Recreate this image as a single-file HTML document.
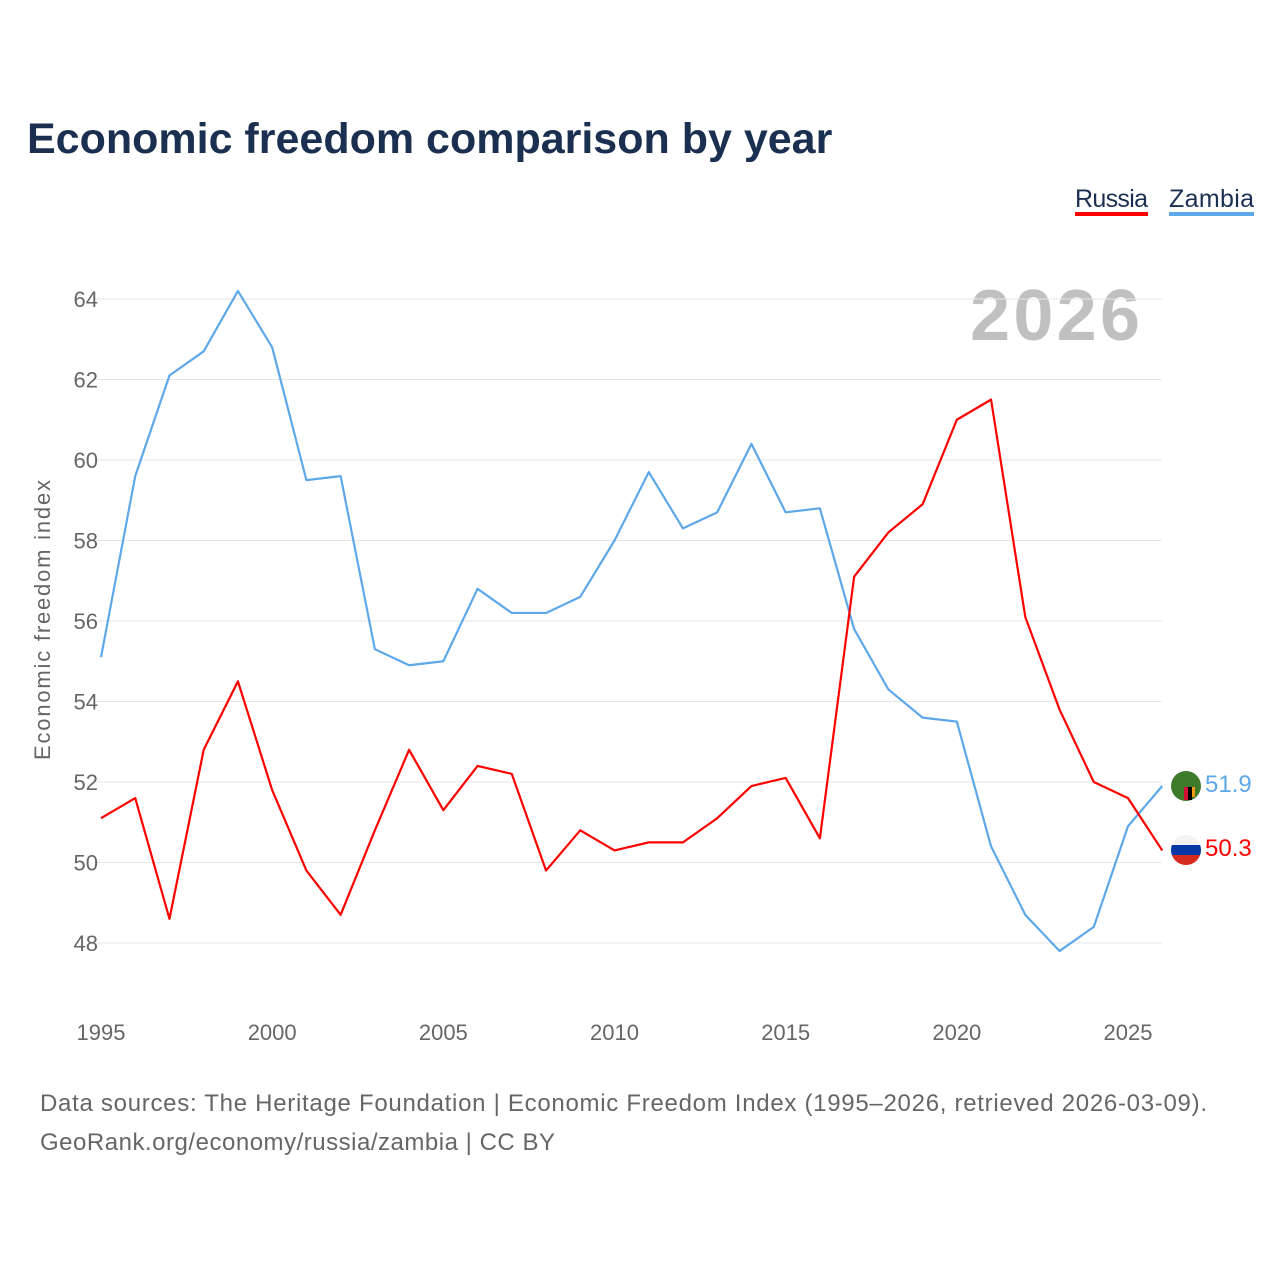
<!DOCTYPE html>
<html><head><meta charset="utf-8"><style>
body{margin:0;background:#fff;font-family:"Liberation Sans",sans-serif;}
svg text{font-family:"Liberation Sans",sans-serif;}
</style></head><body>
<svg id="chart" width="1280" height="1280" viewBox="0 0 1280 1280" xmlns="http://www.w3.org/2000/svg">
<text x="27" y="153" font-size="43" font-weight="bold" fill="#1b2f50">Economic freedom comparison by year</text>
<g><text x="1075" y="207" font-size="25" fill="#1b2f50" textLength="73">Russia</text><rect x="1075" y="212" width="73" height="4" fill="#ff0000"/></g>
<g><text x="1169" y="207" font-size="25" fill="#1b2f50" textLength="85">Zambia</text><rect x="1169" y="212" width="85" height="4" fill="#5ea8ea"/></g>
<text x="970" y="340" font-size="72" font-weight="bold" fill="#c0c0c0" textLength="170">2026</text>
<text transform="translate(50,620) rotate(-90)" font-size="22" fill="#666" text-anchor="middle" textLength="280">Economic freedom index</text>
<g id="grid"></g><g id="yticks"></g><g id="xticks"></g><g id="lines"></g>
<g><circle cx="1186" cy="786" r="15" fill="#3d7a2a"/><rect x="1184" y="787" width="4" height="13" fill="#d21034"/><rect x="1188" y="787" width="4" height="13" fill="#000"/><rect x="1192" y="787" width="3" height="10" fill="#f39c12"/></g>
<g><clipPath id="rc"><circle cx="1186" cy="850" r="15"/></clipPath><g clip-path="url(#rc)"><rect x="1170" y="834" width="32" height="11" fill="#f2f2f2"/><rect x="1170" y="845" width="32" height="10" fill="#0039a6"/><rect x="1170" y="855" width="32" height="11" fill="#d52b1e"/></g></g>
<text x="1205" y="792" font-size="24" fill="#5ea8ea">51.9</text>
<text x="1205" y="856" font-size="24" fill="#ff0000">50.3</text>
<text x="40" y="1111" font-size="24" fill="#666" textLength="1167">Data sources: The Heritage Foundation | Economic Freedom Index (1995–2026, retrieved 2026-03-09).</text>
<text x="40" y="1150" font-size="24" fill="#666" textLength="515">GeoRank.org/economy/russia/zambia | CC BY</text>
</svg>
<script>
const years=[1995,1996,1997,1998,1999,2000,2001,2002,2003,2004,2005,2006,2007,2008,2009,2010,2011,2012,2013,2014,2015,2016,2017,2018,2019,2020,2021,2022,2023,2024,2025,2026];
const zambia=[55.1,59.6,62.1,62.7,64.2,62.8,59.5,59.6,55.3,54.9,55.0,56.8,56.2,56.2,56.6,58.0,59.7,58.3,58.7,60.4,58.7,58.8,55.8,54.3,53.6,53.5,50.4,48.7,47.8,48.4,50.9,51.9];
const russia=[51.1,51.6,48.6,52.8,54.5,51.8,49.8,48.7,50.8,52.8,51.3,52.4,52.2,49.8,50.8,50.3,50.5,50.5,51.1,51.9,52.1,50.6,57.1,58.2,58.9,61.0,61.5,56.1,53.8,52.0,51.6,50.3];
const yTicks=[48,50,52,54,56,58,60,62,64];
const xTicks=[1995,2000,2005,2010,2015,2020,2025];
const NS="http://www.w3.org/2000/svg";
const x=v=>101+(v-1995)*(1128-101)/30;
const y=v=>943-(v-48)*(943-299)/16;
function mk(tag,attrs,parent){const e=document.createElementNS(NS,tag);for(const k in attrs)e.setAttribute(k,attrs[k]);document.getElementById(parent).appendChild(e);return e;}
yTicks.forEach(t=>{
 const l=mk('line',{x1:95,x2:1162,y1:y(t),y2:y(t),stroke:'#e6e6e6','stroke-width':1},'grid');
 
 
 const tx=mk('text',{x:98,y:y(t)+8,'font-size':22,fill:'#666','text-anchor':'end'},'yticks');
 tx.textContent=t;
 
 
});
xTicks.forEach(t=>{
 const tx=mk('text',{x:x(t),y:1040,'font-size':22,fill:'#666','text-anchor':'middle'},'xticks');
 tx.textContent=t;
 
 
});
function line(data,color,name){
 const p=mk('polyline',{points:data.map((v,i)=>x(years[i])+','+y(v)).join(' '),fill:'none',stroke:color,'stroke-width':2.2,'stroke-linejoin':'round'},'lines');
 
 
}
line(zambia,'#5ea8ea','zambia-line');
line(russia,'#ff0000','russia-line');
</script>
</body></html>
